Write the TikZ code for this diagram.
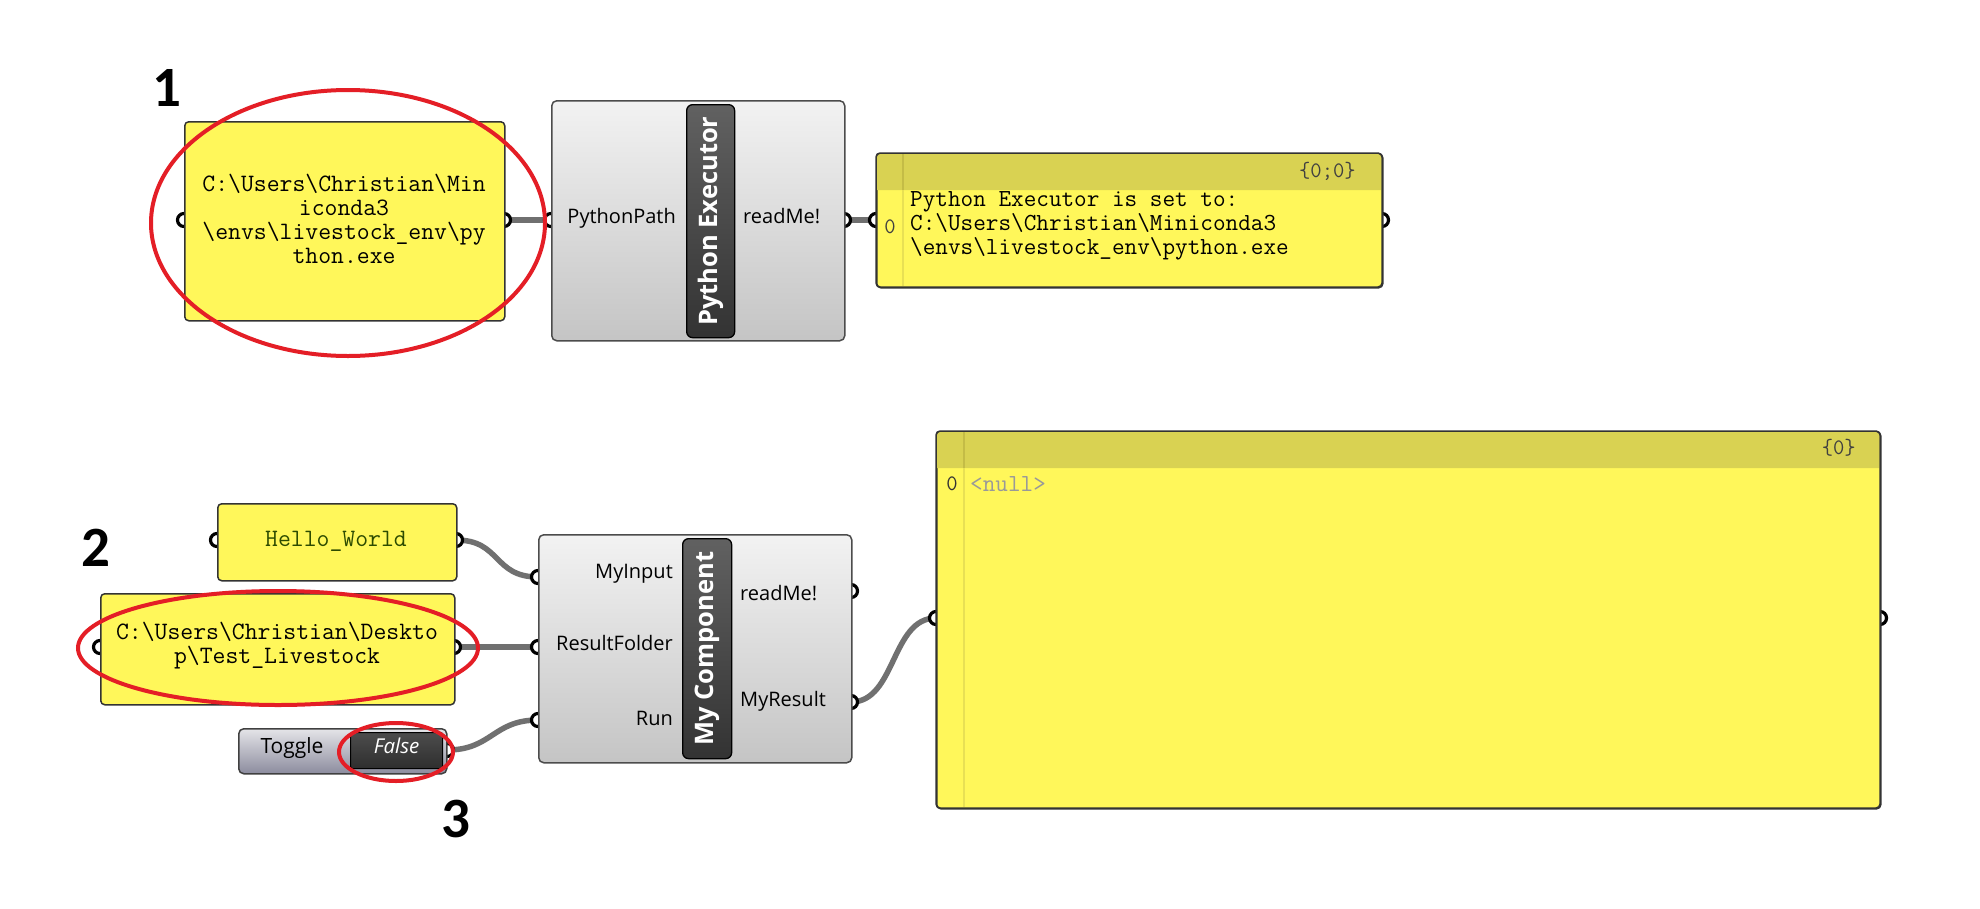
\documentclass[tikz,border=0pt]{standalone}
\usepackage{fontspec}
\setmainfont{Open Sans}
\newfontfamily\calibf{Carlito}
\definecolor{pyellow}{RGB}{255,247,90}
\definecolor{phead}{RGB}{217,210,82}
\definecolor{pline}{RGB}{196,188,70}
\definecolor{pline2}{RGB}{232,224,84}
\definecolor{wirec}{RGB}{112,112,112}
\definecolor{redmark}{RGB}{228,30,38}
\definecolor{greentext}{RGB}{45,75,0}
\tikzset{
 panel/.style={draw=black!80, line width=1.5pt, fill=pyellow, rounded corners=4pt, anchor=north west, inner sep=0pt},
 comp/.style={draw=black!70, line width=1.5pt, rounded corners=5pt, top color=white!95!black, bottom color=white!77!black, anchor=north west, inner sep=0pt},
 barbox/.style={draw=black, line width=1.3pt, rounded corners=6pt, top color=black!62, bottom color=black!80, anchor=north west, inner sep=0pt},
 wire/.style={draw=wirec, line width=5.5pt},
 grip/.style={draw=black, line width=3.2pt, fill=white},
 redring/.style={draw=redmark, line width=4pt},
 num/.style={font=\calibf\bfseries\fontsize{57}{60}\selectfont, inner sep=0pt},
 ptext/.style={font=\ttfamily\fontsize{25}{24}\selectfont, align=center, inner sep=0pt},
 clabel/.style={font=\fontsize{20}{22}\selectfont, inner sep=0pt, text height=1.5ex, text depth=.3ex},
 bartext/.style={font=\bfseries\fontsize{25.5}{27}\selectfont, text=white, rotate=90, inner sep=0pt},
 small/.style={font=\ttfamily\fontsize{22}{22}\selectfont, inner sep=0pt},
}
\begin{document}
\begin{tikzpicture}[x=1pt,y=-1pt]
\fill[white] (0,0) rectangle (1980,908);
\useasboundingbox (0,0) rectangle (1980,908);

% grip coordinates
\coordinate (gp1i) at (184,220);
\coordinate (gp1o) at (504,220);
\coordinate (gc1i) at (551,220);
\coordinate (gc1o) at (844,220);
\coordinate (gp2i) at (876,220);
\coordinate (gp2o) at (1382,220);
\coordinate (ghi) at (217,540);
\coordinate (gho) at (456,540);
\coordinate (gpi) at (100,647);
\coordinate (gpo) at (454,647);
\coordinate (gto) at (447,750);
\coordinate (gc2a) at (538,577);
\coordinate (gc2b) at (538,647);
\coordinate (gc2c) at (538,720);
\coordinate (gc2r) at (851,591);
\coordinate (gc2m) at (851,702);
\coordinate (gbi) at (936,618);
\coordinate (gbo) at (1880,618);

% wires
\draw[wire] (gp1o) -- (gc1i);
\draw[wire] (gc1o) -- (gp2i);
\draw[wire] (gho) .. controls +(45,0) and +(-45,0) .. (gc2a);
\draw[wire] (gpo) -- (gc2b);
\draw[wire] (gto) .. controls +(45,0) and +(-45,0) .. (gc2c);
\draw[wire] (gc2m) .. controls +(45,0) and +(-45,0) .. (gbi);

% grips
\foreach \g in {gp1i,gp1o,gc1i,gc1o,gp2i,gp2o,ghi,gho,gpi,gpo,gto,gc2a,gc2b,gc2c,gc2r,gc2m,gbi,gbo}
  \draw[grip] (\g) circle[radius=6.5pt];

% ---- top row ----
\node[panel, minimum width=320pt, minimum height=199pt] (p1) at (184,121) {};
\node[ptext] (p1t) at (344,219) {C:\textbackslash Users\textbackslash Christian\textbackslash Min\\iconda3\\\textbackslash envs\textbackslash livestock\_env\textbackslash py\\thon.exe};

\node[comp, minimum width=293pt, minimum height=240pt] (c1) at (551,100) {};
\node[barbox, minimum width=48pt, minimum height=233pt] (b1) at (686,104) {};
\node[bartext] (b1t) at (b1.center) {Python Executor};
\node[clabel, anchor=east] (c1in) at (676,220) {PythonPath};
\node[clabel, anchor=west] (c1out) at (743,220) {readMe!};

\node[panel, minimum width=506pt, minimum height=134pt] (p2) at (876,153) {};
\fill[phead] (877,190) [rounded corners=3pt] -- (877,154) -- (1381,154) [sharp corners] -- (1381,190) -- cycle;
\draw[pline, line width=1.2pt] (903,154) -- (903,190);
\draw[pline2, line width=1.2pt] (903,190) -- (903,286);
\draw[black!80, line width=1.5pt, rounded corners=4pt] (876,153) rectangle (1382,287);
\node[small, anchor=east, text=black!75] (p2h) at (1356,171) {\{0;0\}};
\node[small, text=black!75] (p2n) at (890,227) {0};
\node[font=\ttfamily\fontsize{24.5}{24}\selectfont, align=left, anchor=west, inner sep=0pt] (p2t) at (910,226) {Python Executor is set to:\\C:\textbackslash Users\textbackslash Christian\textbackslash Miniconda3\\\textbackslash envs\textbackslash livestock\_env\textbackslash python.exe};

% ---- bottom row ----
\node[panel, minimum width=239pt, minimum height=77pt] (ph) at (217,503) {};
\node[ptext, text=greentext] (pht) at (336,541) {Hello\_World};

\node[panel, minimum width=354pt, minimum height=111pt] (pp) at (100,593) {};
\node[ptext] (ppt) at (277,646) {C:\textbackslash Users\textbackslash Christian\textbackslash Deskto\\p\textbackslash Test\_Livestock};

\node[draw=black!75, line width=1.5pt, rounded corners=5pt, top color={rgb,255:red,228;green,228;blue,232}, bottom color={rgb,255:red,140;green,140;blue,158}, anchor=north west, inner sep=0pt, minimum width=208pt, minimum height=45pt] (tg) at (238,728) {};
\node[draw=black, line width=1.2pt, rounded corners=2pt, top color=black!70, bottom color=black!82, anchor=north west, inner sep=0pt, minimum width=92pt, minimum height=36pt] (tgb) at (350,732) {};
\node[clabel, font=\fontsize{21}{22}\selectfont] (tgt) at (292,750) {Toggle};
\node[clabel, font=\itshape\fontsize{20.5}{22}\selectfont, text=white] (tgf) at (tgb.center) {False};

\node[comp, minimum width=313pt, minimum height=228pt] (c2) at (538,534) {};
\node[barbox, minimum width=49pt, minimum height=220pt] (b2) at (682,538) {};
\node[bartext] (b2t) at (b2.center) {My Component};
\node[clabel, anchor=east] (c2a) at (673,575) {MyInput};
\node[clabel, anchor=east] (c2b) at (673,647) {ResultFolder};
\node[clabel, anchor=east] (c2c) at (673,722) {Run};
\node[clabel, anchor=west] (c2r) at (740,597) {readMe!};
\node[clabel, anchor=west] (c2m) at (740,703) {MyResult};

\node[panel, minimum width=944pt, minimum height=377pt] (pb) at (936,431) {};
\fill[phead] (937,468) [rounded corners=3pt] -- (937,432) -- (1879,432) [sharp corners] -- (1879,468) -- cycle;
\draw[pline, line width=1.2pt] (964,432) -- (964,468);
\draw[pline2, line width=1.2pt] (964,468) -- (964,807);
\draw[black!80, line width=1.5pt, rounded corners=4pt] (936,431) rectangle (1880,808);
\node[small, anchor=east, text=black!75] (pbh) at (1856,448) {\{0\}};
\node[small, text=black!80] (pbn) at (952,484) {0};
\node[small, anchor=west, text=black!40, font=\ttfamily\fontsize{24.5}{24}\selectfont] (pbt) at (970,484) {<null>};

% ---- red marks ----
\draw[redring] (348,223) ellipse[x radius=197pt, y radius=133pt];
\draw[redring] (278,648) ellipse[x radius=200pt, y radius=57pt];
\draw[redring] (396,752) ellipse[x radius=57pt, y radius=29pt];

% ---- numbers ----
\node[num] (n1) at (167,88) {1};
\node[num] (n2) at (96,548) {2};
\node[num] (n3) at (456,819) {3};
\end{tikzpicture}
\end{document}
